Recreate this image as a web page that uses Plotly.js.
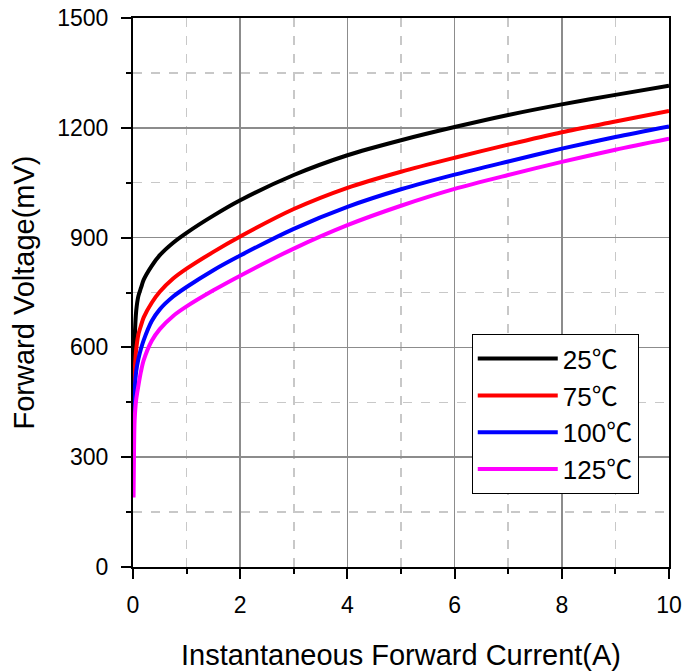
<!DOCTYPE html>
<html>
<head>
<meta charset="utf-8">
<script src="https://cdn.plot.ly/plotly-3.0.1.min.js"></script>
<style>html,body{margin:0;padding:0;background:#fff;}#chart{width:698px;height:671px;}</style>
</head>
<body>
<div id="chart"></div>
<script>
// Instantaneous forward current (A)
var current = [0.01, 0.02, 0.03, 0.06, 0.1, 0.15, 0.2, 0.35, 0.5, 0.75, 1, 1.5, 2, 3, 4, 5, 6, 7, 8, 9, 10];
// Forward voltage (mV) per temperature
var v25  = [460, 560, 620, 700, 740, 763, 785, 823, 852, 886, 913, 960, 1002, 1071, 1125, 1166, 1202, 1235, 1264, 1290, 1315];
var v75  = [400, 480, 530, 595, 635, 660, 682, 722, 752, 788, 815, 861, 903, 978, 1036, 1080, 1118, 1154, 1188, 1217, 1246];
var v100 = [355, 430, 480, 535, 568, 597, 620, 672, 704, 739, 765, 811, 851, 924, 984, 1032, 1072, 1108, 1143, 1175, 1204];
var v125 = [190, 330, 400, 458, 495, 535, 565, 618, 650, 686, 712, 756, 796, 870, 934, 987, 1033, 1071, 1107, 1140, 1170];
var seriesNames = ["25\u2103", "75\u2103", "100\u2103", "125\u2103"];
var seriesColors = ["#000000", "#ff0000", "#0000ff", "#ff00ff"];
var seriesValues = [v25, v75, v100, v125];

var traces = seriesValues.map(function (vals, i) {
  return {
    x: current, y: vals, type: "scatter", mode: "lines",
    name: seriesNames[i],
    line: {color: seriesColors[i], width: 4, shape: "spline", smoothing: 0.8}
  };
});

var fontFam = "Liberation Sans, Arial, Noto Sans CJK SC, sans-serif";
var layout = {
  width: 698, height: 671,
  margin: {l: 133, r: 29, t: 18, b: 104},
  paper_bgcolor: "#ffffff", plot_bgcolor: "#ffffff",
  font: {family: fontFam, color: "#000000", size: 23},
  showlegend: true,
  legend: {
    x: 0.632, y: 0.424, xanchor: "left", yanchor: "top",
    bgcolor: "#ffffff", bordercolor: "#000000", borderwidth: 1,
    font: {family: fontFam, size: 26, color: "#000000"},
    itemwidth: 80, tracegroupgap: 0
  },
  xaxis: {
    range: [0, 10], dtick: 2, tick0: 0,
    showline: true, linecolor: "#000000", linewidth: 2, mirror: true,
    ticks: "outside", ticklen: 10, tickwidth: 2, tickcolor: "#000000",
    showgrid: true, gridcolor: "#8c8c8c", gridwidth: 1.5,
    zeroline: false,
    tickfont: {family: fontFam, size: 23, color: "#000000"},
    ticklabelstandoff: 6,
    minor: {dtick: 1, ticks: "outside", ticklen: 5, tickwidth: 2, tickcolor: "#000000",
            showgrid: true, gridcolor: "#c8c8c8", gridwidth: 1.5, griddash: "dash"},
    title: {text: "Instantaneous Forward Current(A)", font: {family: fontFam, size: 29, color: "#000000"}, standoff: 28}
  },
  yaxis: {
    range: [0, 1500], dtick: 300, tick0: 0,
    showline: true, linecolor: "#000000", linewidth: 2, mirror: true,
    ticks: "outside", ticklen: 10, tickwidth: 2, tickcolor: "#000000",
    showgrid: true, gridcolor: "#8c8c8c", gridwidth: 1.5,
    zeroline: false,
    tickfont: {family: fontFam, size: 23, color: "#000000"},
    ticklabelstandoff: 8,
    minor: {dtick: 150, ticks: "outside", ticklen: 5, tickwidth: 2, tickcolor: "#000000",
            showgrid: true, gridcolor: "#c8c8c8", gridwidth: 1.5, griddash: "dash"},
    title: {text: "Forward Voltage(mV)", font: {family: fontFam, size: 29, color: "#000000"}, standoff: 14}
  }
};

Plotly.newPlot("chart", traces, layout, {displayModeBar: false, staticPlot: true});
</script>
</body>
</html>
